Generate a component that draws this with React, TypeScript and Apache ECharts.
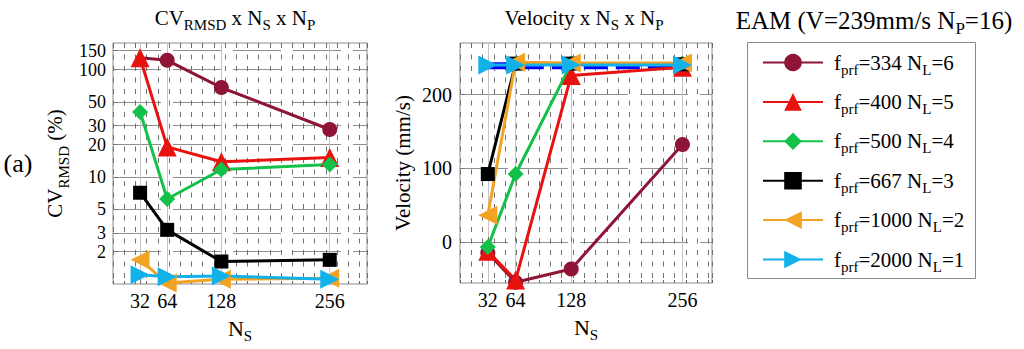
import React, { useEffect, useRef } from 'react';
import * as echarts from 'echarts';

// ---------- data ----------
const nsValues = [32, 64, 128, 256];
const nsTicks = [32, 64, 128, 256];
const seriesNames = ['fprf=334 NL=6', 'fprf=400 NL=5', 'fprf=500 NL=4', 'fprf=667 NL=3', 'fprf=1000 NL=2', 'fprf=2000 NL=1'];
const fprfLabels = ['334', '400', '500', '667', '1000', '2000'];
const nlLabels = ['6', '5', '4', '3', '2', '1'];

const cvF334 = [129, 122, 68, 27.6];
const cvF400 = [129, 19, 13.8, 15.1];
const cvF500 = [40.3, 6.2, 11.7, 13.0];
const cvF667 = [7.1, 3.2, 1.62, 1.68];
const cvF1000 = [1.68, 1.02, 1.11, 1.13];
const cvF2000 = [1.22, 1.17, 1.19, 1.11];
// the fprf=334 marker at NS=32 lies hidden under the fprf=400 triangle
const cvF334HiddenMarker = [true, false, false, false];

const velF334 = [-15, -55, -37, 132];
const velF400 = [-13, -52, 226, 237];
const velF500 = [-7, 92, 242, 242];
const velF667 = [92, 242, 242, 241];
const velF1000 = [36, 244, 243, 243];
const velF2000 = [240, 240, 240, 240];
const trueVelocity = [239, 239, 239, 239];

const cvTicks = [2, 3, 5, 10, 20, 30, 50, 100, 150];
const velTicks = [0, 100, 200];

// ---------- styles ----------
const colors = ['#8e1535', '#e8120e', '#13c04a', '#000000', '#f2a323', '#12b1ea'];
const symbols = ['circle', 'triangle', 'diamond', 'rect', 'triangle', 'triangle'];
const symbolRotates = [0, 0, 0, 0, 90, -90];
const symbolSizes = [15, 19, 16, 14, 19, 19];
const serif = "'Liberation Serif', 'Times New Roman', serif";

const mkRich = (main: number, sub: number, pad: number) => ({
  m: { fontFamily: serif, fontSize: main, color: '#000' },
  f: { fontFamily: serif, fontSize: main, color: '#000', padding: [0, 0, 0, 6] },
  s: { fontFamily: serif, fontSize: sub, color: '#000', padding: [pad, 0, 0, 0] },
});

const zip = (xs: number[], ys: number[]) => xs.map((x, i) => [x, ys[i]]);

export default function App() {
  const ref = useRef<HTMLDivElement>(null);
  useEffect(() => {
    document.body.style.margin = '0';
    const chart = echarts.init(ref.current!, undefined, { renderer: 'svg' });
    const cvData = [cvF334, cvF400, cvF500, cvF667, cvF1000, cvF2000];
    const velData = [velF334, velF400, velF500, velF667, velF1000, velF2000];
    const cvMax = 177;
    const log10 = (v: number) => Math.log10(v);

    const mainX = (grid: number, max: number) => ({
      type: 'value', gridIndex: grid, min: 0, max, position: 'bottom',
      axisLine: { show: false },
      axisLabel: { customValues: nsTicks, fontFamily: serif, fontSize: 20, color: '#000', margin: 7, showMinLabel: true, showMaxLabel: true, hideOverlap: false },
      axisTick: { customValues: nsTicks, inside: true, length: 5, lineStyle: { color: '#777' } },
      splitLine: { show: true, lineStyle: { color: '#c4c4c4', width: 1 } },
      name: '{m|N}{s|S}', nameLocation: 'middle', nameGap: 30,
      nameTextStyle: { fontFamily: serif, rich: mkRich(22, 15, 14) },
    });
    const dashX = (grid: number, max: number, pos: string, lines: boolean) => ({
      type: 'value', gridIndex: grid, min: 0, max, interval: 1, position: pos,
      axisLine: { show: false }, axisLabel: { show: false },
      axisTick: { show: true, inside: true, length: 3, lineStyle: { color: '#666' } },
      splitLine: { show: lines, lineStyle: { color: '#707070', type: [5, 6.5], width: 1 } },
    });

    const series: any[] = [];
    series.push({
      type: 'line', name: 'V=239mm/s', xAxisIndex: 3, yAxisIndex: 2,
      data: zip(nsValues, trueVelocity), symbol: 'none', z: 1,
      lineStyle: { color: '#0000ff', width: 7, type: [24, 8] },
    });
    for (let i = 0; i < 6; i++) {
      const common = {
        type: 'line', name: seriesNames[i], symbol: symbols[i], symbolSize: symbolSizes[i],
        symbolRotate: symbolRotates[i], z: 2,
        lineStyle: { color: colors[i], width: 3 }, itemStyle: { color: colors[i] },
        clip: false,
      };
      let cvPoints: any[] = zip(nsValues, cvData[i]);
      if (i === 0) {
        cvPoints = cvPoints.map((p, j) => (cvF334HiddenMarker[j] ? { value: p, symbol: 'none' } : p));
      }
      series.push({ ...common, xAxisIndex: 0, yAxisIndex: 0, data: cvPoints });
      series.push({ ...common, xAxisIndex: 3, yAxisIndex: 2, data: zip(nsValues, velData[i]) });
    }

    const option: any = {
      animation: false,
      textStyle: { fontFamily: serif, color: '#000' },
      grid: [
        { left: 113, top: 43, width: 254, height: 241, show: true, borderColor: '#8a8a8a', borderWidth: 1, containLabel: false },
        { left: 460, top: 43, width: 252, height: 240, show: true, borderColor: '#8a8a8a', borderWidth: 1, containLabel: false },
      ],
      xAxis: [
        mainX(0, 300),
        dashX(0, 254 / 11.2, 'bottom', true),
        dashX(0, 254 / 11.2, 'top', false),
        mainX(1, 290),
        dashX(1, 252 / 11.3, 'bottom', true),
        dashX(1, 252 / 11.3, 'top', false),
      ],
      yAxis: [
        { type: 'log', gridIndex: 0, min: 1, max: cvMax, logBase: 10, show: false },
        {
          type: 'value', gridIndex: 0, min: 0, max: log10(cvMax), position: 'left',
          axisLine: { show: false },
          axisLabel: {
            customValues: cvTicks.map(log10), fontFamily: serif, fontSize: 18, lineHeight: 13,
            color: '#000', margin: 7, showMinLabel: true, showMaxLabel: true, hideOverlap: false,
            formatter: (v: number) => String(Math.round(Math.pow(10, v))),
          },
          axisTick: { customValues: cvTicks.map(log10), inside: true, length: 5, lineStyle: { color: '#777' } },
          splitLine: { show: true, lineStyle: { color: '#8f8f8f', type: [48, 12] } },
          name: '{m|CV}{s|RMSD}{m| (%)}', nameLocation: 'middle', nameGap: 42,
          nameTextStyle: { fontFamily: serif, rich: mkRich(21, 15, 18) },
        },
        {
          type: 'value', gridIndex: 1, min: -56, max: 270, position: 'left',
          axisLine: { show: false },
          axisLabel: { customValues: velTicks, fontFamily: serif, fontSize: 20, color: '#000', margin: 8, showMinLabel: true, showMaxLabel: true },
          axisTick: { customValues: velTicks, inside: true, length: 5, lineStyle: { color: '#777' } },
          splitLine: { show: true, lineStyle: { color: '#8f8f8f', type: [48, 12] } },
          name: 'Velocity (mm/s)', nameLocation: 'middle', nameGap: 47,
          nameTextStyle: { fontFamily: serif, fontSize: 21, color: '#000' },
        },
      ],
      legend: {
        data: seriesNames, orient: 'vertical', left: 762, top: 52, padding: 0,
        itemWidth: 60, itemHeight: 22, itemGap: 14.4, selectedMode: false,
        textStyle: { fontFamily: serif, fontSize: 21, color: '#000', rich: mkRich(21, 15, 14) },
        formatter: (name: string) => {
          const i = seriesNames.indexOf(name);
          return `{f|f}{s|prf}{m|=${fprfLabels[i]} N}{s|L}{m|=${nlLabels[i]}}`;
        },
      },
      graphic: [
        { type: 'rect', shape: { x: 747.5, y: 42.5, width: 228, height: 236 }, style: { fill: 'none', stroke: '#8a8a8a', lineWidth: 1 }, silent: true },
        { type: 'text', x: 18, y: 163, style: { text: '(a)', fontFamily: serif, fontSize: 26, fill: '#000', align: 'center', verticalAlign: 'middle' } },
        { type: 'text', x: 235, y: 18, style: { text: '{m|CV}{s|RMSD}{m| x N}{s|S}{m| x N}{s|P}', rich: mkRich(21, 15, 14), align: 'center', verticalAlign: 'middle' } },
        { type: 'text', x: 584, y: 18, style: { text: '{m|Velocity x N}{s|S}{m| x N}{s|P}', rich: mkRich(21, 15, 14), align: 'center', verticalAlign: 'middle' } },
        { type: 'text', x: 874, y: 20, style: { text: '{m|EAM (V=239mm/s N}{s|P}{m|=16)}', rich: mkRich(25, 17, 16), align: 'center', verticalAlign: 'middle' } },
      ],
      series,
    };
    chart.setOption(option);
    return () => chart.dispose();
  }, []);
  return <div ref={ref} style={{ width: 1024, height: 349 }} />;
}
